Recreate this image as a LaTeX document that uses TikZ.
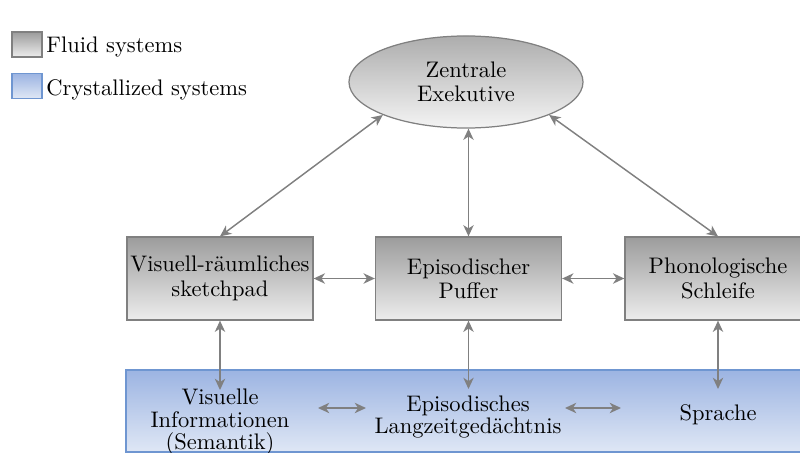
\documentclass[tikz,border=0pt]{standalone}
\usepackage{fontspec}
\usetikzlibrary{shapes.geometric,arrows.meta,shadings}
\newdimen\pxu \pxu=0.4444pt
\definecolor{edgegray}{HTML}{808080}
\definecolor{boxtop}{HTML}{9C9C9C}
\definecolor{boxbot}{HTML}{EDEDED}
\definecolor{elltop}{HTML}{ADADAD}
\definecolor{ellbot}{HTML}{F4F4F4}
\definecolor{bluetop}{HTML}{9CB4E2}
\definecolor{bluebot}{HTML}{DFE7F5}
\definecolor{blueedge}{HTML}{6F96D1}
\tikzset{
  fluidbox/.style={draw=edgegray, line width=0.55pt, top color=boxtop, bottom color=boxbot,
    minimum width=82.7pt, minimum height=36.9pt, inner sep=0pt, align=center,
    font=\fontsize{10}{10.8}\selectfont},
  exekutive/.style={ellipse, draw=edgegray, line width=0.55pt, top color=elltop, bottom color=ellbot,
    minimum width=104pt, minimum height=40.9pt, inner sep=0pt, align=center,
    font=\fontsize{10}{10.8}\selectfont},
  ltmtext/.style={align=center, inner sep=0pt, font=\fontsize{10}{10}\selectfont},
  link/.style={draw=edgegray, line width=0.65pt, {Stealth[length=5pt,width=4.6pt,inset=1.5pt]}-{Stealth[length=5pt,width=4.6pt,inset=1.5pt]}},
  legendsq/.style={draw, line width=0.55pt, minimum width=13.3pt, minimum height=11.1pt, inner sep=0pt},
  legendtxt/.style={anchor=west, inner sep=0pt, font=\fontsize{10}{12}\selectfont},
}
\begin{document}
\begin{tikzpicture}[x=\pxu, y=-\pxu]
  \useasboundingbox (0,0) rectangle (800,453);
  \clip (0,0) rectangle (800,453);

  % long-term memory band (crystallized systems)
  \path[draw=blueedge, line width=0.55pt, top color=bluetop, bottom color=bluebot]
    (126,370) rectangle (840,452);

  % legend
  \node[legendsq, draw=edgegray, top color=boxtop, bottom color=boxbot] (lgfluid) at (27,44.5) {};
  \node[legendtxt] (lgfluidtxt) at (46,47) {Fluid systems};
  \node[legendsq, draw=blueedge, top color=bluetop, bottom color=bluebot] (lgcryst) at (27,86) {};
  \node[legendtxt] (lgcrysttxt) at (46,90) {Crystallized systems};

  % working memory components
  \node[exekutive] (ze) at (466,82) {Zentrale\\Exekutive};
  \node[fluidbox] (vss) at (220,278.5) {Visuell-räumliches\\sketchpad};
  \node[fluidbox] (ep) at (468.5,278.5) {Episodischer\\Puffer};
  \node[fluidbox] (pl) at (718,278.5) {Phonologische\\Schleife};

  % long-term memory contents
  \node[ltmtext] (vis) at (220,422) {Visuelle\\Informationen\\(Semantik)};
  \node[ltmtext] (eltm) at (468,417) {Episodisches\\Langzeitgedächtnis};
  \node[ltmtext] (spr) at (718,415) {Sprache};

  \coordinate (visin) at (220,390);
  \coordinate (eltmin) at (468.5,389);
  \coordinate (sprin) at (718,389);
  \coordinate (ha1) at (318,408);
  \coordinate (hb1) at (366,408);
  \coordinate (ha2) at (565,408);
  \coordinate (hb2) at (621,408);

  % connections
  \draw[link] (ze.south west) -- (vss.north);
  \draw[link] (ep.north |- ze.south) -- (ep.north);
  \draw[link] (ze.south east) -- (pl.north);
  \draw[link] (vss.east) -- (ep.west);
  \draw[link] (ep.east) -- (pl.west);
  \draw[link] (vss.south) -- (visin);
  \draw[link] (ep.south) -- (eltmin);
  \draw[link] (pl.south) -- (sprin);
  \draw[link] (ha1) -- (hb1);
  \draw[link] (ha2) -- (hb2);
\end{tikzpicture}
\end{document}
